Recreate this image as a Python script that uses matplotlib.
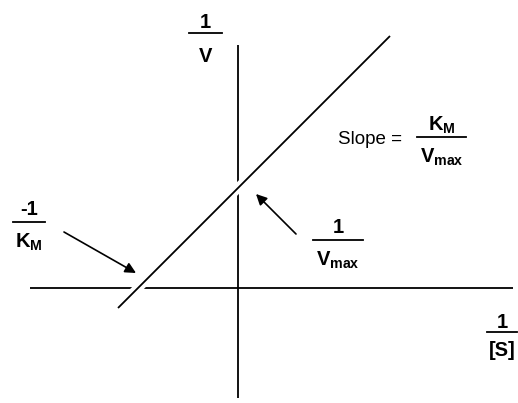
import matplotlib
matplotlib.use("Agg")
import matplotlib.pyplot as plt
import matplotlib.patheffects as pe

plt.rcParams['font.family'] = ['Liberation Sans', 'DejaVu Sans']
plt.rcParams['mathtext.fontset'] = 'custom'
plt.rcParams['mathtext.rm'] = 'Liberation Sans:bold'
plt.rcParams['mathtext.it'] = 'Liberation Sans:bold'
plt.rcParams['mathtext.bf'] = 'Liberation Sans:bold'

# Lineweaver-Burk sketch: 1/V against 1/[S]
x_axis = [-2.08, 2.75]      # extent of the 1/[S] axis
y_axis = [-1.10, 2.43]      # extent of the 1/V axis
line_x = [-1.20, 1.52]      # 1/[S] at both ends of the fitted line
line_y = [-0.20, 2.52]      # 1/V at both ends of the fitted line

fig = plt.figure(figsize=(5.18, 4.03), dpi=100)
ax = fig.add_axes([0, 0, 1, 1])
ax.set_xlim(-2.38, 2.80)
ax.set_ylim(-1.15, 2.88)
ax.axis('off')

lw = 1.3
ax.plot(x_axis, [0, 0], color='black', lw=lw, solid_capstyle='butt')
ax.plot([0, 0], y_axis, color='black', lw=lw, solid_capstyle='butt')
ax.plot(line_x, line_y, color='black', lw=lw, solid_capstyle='butt',
        path_effects=[pe.Stroke(linewidth=7, foreground='white'), pe.Normal()])

fs = 14.5


def fraction(x, y, top, bottom, width, top_dy=0.12, bot_dy=0.20):
    ax.text(x, y + top_dy, top, ha='center', va='center', fontsize=fs,
            fontweight='bold')
    ax.plot([x - width / 2, x + width / 2], [y, y], color='black', lw=1.3)
    ax.text(x, y - bot_dy, bottom, ha='center', va='center', fontsize=fs,
            fontweight='bold')


fraction(-0.325, 2.55, '1', 'V', 0.33, 0.11, 0.24)
fraction(-2.09, 0.66, '-1', r'$\mathrm{K_M}$', 0.32)
fraction(2.035, 1.51, r'$\mathrm{K_M}$', r'$\mathrm{V_{max}}$', 0.49)
fraction(1.00, 0.48, '1', r'$\mathrm{V_{max}}$', 0.50)
fraction(2.64, -0.44, '1', '[S]', 0.30, 0.10, 0.18)

ax.text(1.69, 1.48, 'Slope = ', ha='right', va='center', fontsize=13.5)

arrow = dict(arrowstyle='-|>', color='black', lw=1.2, mutation_scale=16,
             shrinkA=0, shrinkB=0)
ax.annotate('', xy=(-1.02, 0.15), xytext=(-1.74, 0.56), arrowprops=arrow)
ax.annotate('', xy=(0.18, 0.94), xytext=(0.58, 0.54), arrowprops=arrow)

fig.savefig('out.png', dpi=100, facecolor='white')
